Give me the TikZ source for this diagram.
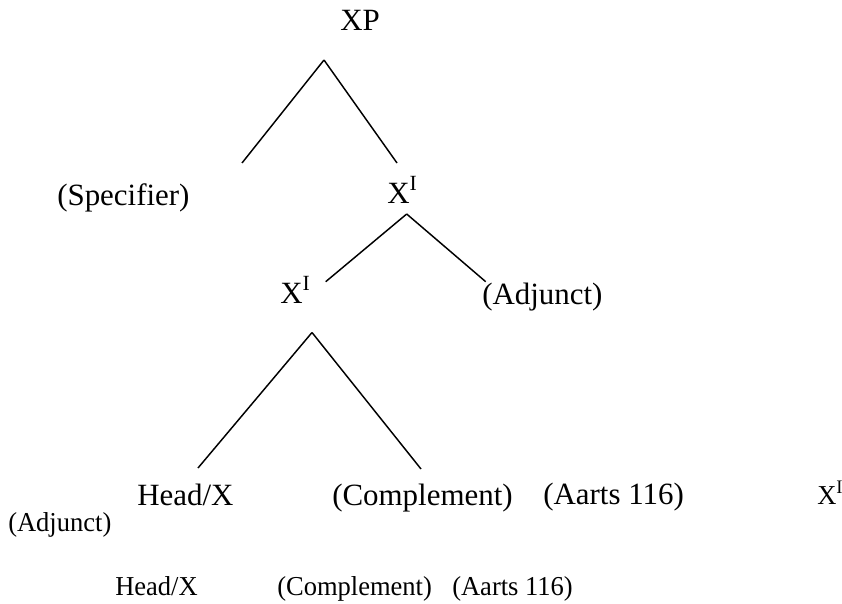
\documentclass[tikz,border=0pt]{standalone}
\usepackage{fontspec}
\setmainfont{Liberation Serif}
\usepackage{tikz}

\tikzset{
  bigword/.style={anchor=base west, inner sep=0pt, font=\fontsize{23.2}{28}\selectfont},
  smallword/.style={anchor=base west, inner sep=0pt, font=\fontsize{20.5}{25}\selectfont, xscale=0.97},
  branch/.style={line width=1.1pt}
}

\begin{document}
\begin{tikzpicture}[x=0.75pt, y=-0.75pt]
\useasboundingbox (0,0) rectangle (842,603);

\node[bigword] (xp) at (340,30) {XP};
\node[bigword] (spec) at (57,205) {(Specifier)};
\node[bigword] (xbar) at (387,203) {X\textsuperscript{I}};
\node[bigword] (xlow) at (280,303) {X\textsuperscript{I}};
\node[bigword] (adj) at (482,304) {(Adjunct)};
\node[bigword] (head) at (137,505) {Head/X};
\node[bigword] (comp) at (332,505) {(Complement)};
\node[bigword] (aarts) at (543,504) {(Aarts 116)};

\node[smallword] (xright) at (817,504) {X\textsuperscript{I}};
\node[smallword] (adjsmall) at (8,531) {(Adjunct)};
\node[smallword] (headsmall) at (115,595) {Head/X};
\node[smallword] (compsmall) at (277,595) {(Complement)};
\node[smallword] (aartssmall) at (452,595) {(Aarts 116)};

\coordinate (xp-foot) at (324,60);
\coordinate (spec-top) at (242,163);
\coordinate (xbar-top) at (397,163);
\coordinate (xbar-foot) at (406.7,214);
\coordinate (xlow-top) at (325.7,281.7);
\coordinate (adj-top) at (485.7,281.7);
\coordinate (xlow-foot) at (312,332.5);
\coordinate (head-top) at (198,468);
\coordinate (comp-top) at (421,469);

\draw[branch] (xp-foot) -- (spec-top);
\draw[branch] (xp-foot) -- (xbar-top);
\draw[branch] (xbar-foot) -- (xlow-top);
\draw[branch] (xbar-foot) -- (adj-top);
\draw[branch] (xlow-foot) -- (head-top);
\draw[branch] (xlow-foot) -- (comp-top);
\end{tikzpicture}
\end{document}
